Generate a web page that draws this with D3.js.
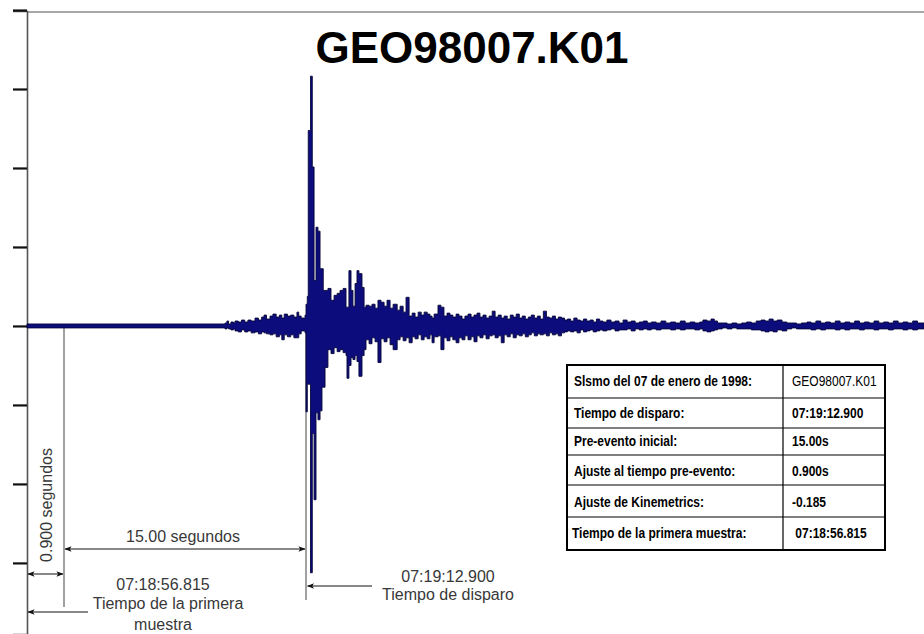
<!DOCTYPE html>
<html>
<head>
<meta charset="utf-8">
<script src="https://cdn.jsdelivr.net/npm/d3@7"></script>
<style>
	body{margin:0;background:#fff;}
	svg{display:block;font-family:"Liberation Sans",Arial,sans-serif;}
</style>
</head>
<body>
<svg id="d_svg" width="924" height="634"></svg>
<script>
/*registro sismico GEO98007.K01*/
var titulo = "GEO98007.K01";
// tiempos marcados (s desde la primera muestra)
var tPrimera = 0;
var tPreEvento = 0.9;
var tDisparo = 15.9;
var tFin = 54.2;
var yTicks = [-240, -160, -80, 0, 80, 160, 240, 320];
// envolvente de la senal: [t (s), maximo, minimo] en cuentas
var envolvente = [
	[0,2,-2],[10.88,3,-3],[11.0,5,-2],[11.1,2,-3],[11.25,4,-4],[11.4,3,-3],[11.5,5,-5],[11.7,4,-6],
	[11.9,6,-4],[12.1,4,-6],[12.3,6,-5],[12.5,5,-7],[12.74,8,-6],[12.95,6,-8],[13.15,9,-6],[13.3,11,-7],
	[13.45,7,-8],[13.67,10,-9],[13.85,12,-8],[14.05,9,-11],[14.25,11,-9],[14.4,8,-14],[14.55,12,-9],
	[14.75,10,-11],[14.95,11,-9],[15.15,9,-12],[15.34,14,-12],[15.45,10,-8],[15.6,8,-5],[15.84,11,-7],
	[15.9,22,-87],[15.98,30,-59],[16.04,198,-59],[16.18,253,-250],[16.29,161,-109],[16.4,46,-176],
	[16.52,100,-88],[16.64,96,-95],[16.77,58,-86],[16.89,58,-62],[16.97,36,-62],[17.08,36,-42],
	[17.26,38,-24],[17.45,26,-28],[17.64,31,-22],[17.83,33,-26],[18.01,36,-24],[18.2,38,-27],
	[18.38,19,-30],[18.44,19,-53],[18.56,56,-40],[18.69,36,-32],[18.81,20,-34],[18.94,43,-30],
	[19.06,56,-36],[19.18,53,-51],[19.37,39,-30],[19.5,19,-24],[19.62,21,-14],[19.81,20,-18],
	[19.99,22,-12],[20.18,18,-16],[20.36,26,-37],[20.55,24,-13],[20.74,20,-16],[20.92,26,-12],
	[21.11,18,-19],[21.3,22,-24],[21.55,16,-14],[21.73,20,-11],[21.92,14,-15],[22.1,29,-12],
	[22.29,10,-17],[22.48,13,-11],[22.66,9,-13],[22.85,14,-9],[23.04,11,-14],[23.22,14,-11],
	[23.41,12,-13],[23.58,10,-9],[23.71,8,-17],[23.84,12,-11],[24.08,21,-10],[24.26,19,-24],
	[24.45,10,-12],[24.64,13,-15],[24.82,11,-11],[25.0,9,-14],[25.2,12,-17],[25.38,10,-12],
	[25.57,7,-14],[25.75,10,-10],[25.94,12,-14],[26.13,9,-11],[26.31,11,-16],[26.5,13,-10],
	[26.68,9,-12],[26.87,11,-9],[27.06,8,-13],[27.25,10,-10],[27.44,15,-9],[27.62,9,-12],
	[27.81,11,-10],[28.0,8,-17],[28.18,10,-9],[28.37,7,-11],[28.56,11,-8],[28.74,9,-12],
	[28.93,12,-9],[29.12,8,-10],[29.3,10,-8],[29.49,7,-11],[29.68,9,-9],[29.86,11,-7],
	[30.05,8,-10],[30.24,10,-8],[30.42,7,-9],[30.61,15,-8],[30.8,9,-10],[30.98,8,-7],
	[31.17,10,-9],[31.36,7,-8],[31.54,9,-10],[31.73,8,-7],[31.92,6,-6],[32.1,7,-5],[32.3,5,-6],
	[32.5,8,-5],[32.7,6,-7],[32.9,5,-4],[33.1,7,-6],[33.3,5,-5],[33.5,6,-4],[33.7,4,-6],
	[33.9,7,-5],[34.1,5,-4],[34.3,4,-5],[34.55,6,-4],[34.8,4,-3],[35.05,5,-5],[35.3,3,-4],
	[35.55,6,-4],[35.8,4,-3],[36.05,5,-5],[36.3,3,-3],[36.55,4,-4],[36.8,5,-3],[37.05,3,-4],
	[37.3,4,-3],[37.6,3,-4],[37.9,5,-3],[38.2,3,-3],[38.5,4,-4],[38.8,3,-3],[39.1,5,-4],
	[39.4,3,-3],[39.7,4,-3],[40.0,3,-4],[40.3,4,-3],[40.5,6,-5],[40.75,5,-6],[41.0,7,-5],
	[41.2,5,-4],[41.4,3,-3],[41.7,3,-2],[42.0,2,-3],[42.3,3,-2],[42.6,2,-3],[42.9,3,-3],
	[43.2,4,-3],[43.5,3,-4],[43.8,5,-4],[44.1,6,-5],[44.35,5,-6],[44.6,7,-5],[44.85,5,-6],
	[45.1,6,-4],[45.4,4,-5],[45.7,3,-3],[46.0,3,-2],[46.3,2,-3],[46.6,3,-3],[46.95,4,-3],
	[47.2,3,-4],[47.5,5,-3],[47.8,3,-4],[48.1,4,-3],[48.4,3,-3],[48.7,5,-4],[49.0,3,-3],
	[49.3,4,-4],[49.6,3,-3],[49.9,5,-3],[50.2,3,-4],[50.5,4,-3],[50.8,3,-3],[51.1,5,-4],
	[51.4,3,-3],[51.7,4,-3],[52.0,3,-4],[52.3,5,-3],[52.6,3,-3],[52.9,4,-4],[53.2,3,-3],
	[53.5,5,-4],[53.8,3,-3],[54.2,3,-3]
];
var tablaEtiquetas = [
	"Slsmo del 07 de enero de 1998:",
	"Tiempo de disparo:",
	"Pre-evento inicial:",
	"Ajuste al tiempo pre-evento:",
	"Ajuste de Kinemetrics:",
	"Tiempo de la primera muestra:"
];
var tablaValores = ["GEO98007.K01", "07:19:12.900", "15.00s", "0.900s", "-0.185", " 07:18:56.815"];

var svg = d3.select('#d_svg');
// la escala no es proporcional en el primer tramo (esquema del registro)
var x = d3.scaleLinear()
			.domain([tPrimera, tPreEvento, tDisparo, tFin])
			.range([27, 64, 306, 924]);
var y = d3.scaleLinear()
			.domain([-312, 319])
			.range([634, 11]);

var defs = svg.append('defs');
defs.append('marker')
	.attr('id', 'flecha')
	.attr('viewBox', '0 0 8 8')
	.attr('refX', 7.5)
	.attr('refY', 4)
	.attr('markerWidth', 7)
	.attr('markerHeight', 7)
	.attr('markerUnits', 'userSpaceOnUse')
	.attr('orient', 'auto-start-reverse')
	.append('path')
	.attr('d', 'M0,0.8L8,4L0,7.2L2,4Z')
	.attr('fill', '#111');

// marco superior
svg.append('line')
	.attr('x1', x(tPrimera))
	.attr('x2', 924)
	.attr('y1', 12)
	.attr('y2', 12)
	.attr('stroke', '#8a8a8a')
	.attr('stroke-width', 1.5);

// eje y sin etiquetas
var eje = svg.append('g')
			.attr('transform', 'translate(' + x(tPrimera) + ',0)')
			.call(d3.axisLeft(y).tickValues(yTicks).tickSize(14).tickFormat(''));
eje.select('.domain')
	.attr('stroke', '#555')
	.attr('stroke-width', 1.6);
eje.selectAll('.tick line')
	.attr('stroke', '#111')
	.attr('stroke-width', 2.2);

// lineas verticales de referencia
var marcas = [tPreEvento, tDisparo];
svg.append('g')
	.selectAll('line')
	.data(marcas)
	.enter()
	.append('line')
	.attr('x1', function(d){ return x(d); })
	.attr('x2', function(d){ return x(d); })
	.attr('y1', y(0))
	.attr('y2', function(d, i){ return i == 0 ? 607 : 600; })
	.attr('stroke', '#8a8a8a')
	.attr('stroke-width', 1.6);

// senal
var area = d3.area()
			.x(function(d){ return x(d[0]); })
			.y0(function(d){ return y(d[2]); })
			.y1(function(d){ return y(d[1]); })
			.curve(d3.curveStepAfter);
svg.append('path')
	.datum(envolvente)
	.attr('d', area)
	.attr('fill', '#0c0c7c')
	.attr('stroke', '#07073a')
	.attr('stroke-width', 0.9)
	.attr('stroke-linejoin', 'miter');

// titulo
svg.append('text')
	.attr('x', 472)
	.attr('y', 63)
	.attr('text-anchor', 'middle')
	.attr('font-size', '44px')
	.attr('font-weight', 'bold')
	.attr('fill', '#000')
	.text(titulo);

// cotas
var cotas = svg.append('g')
			.attr('stroke', '#111')
			.attr('stroke-width', 1);
cotas.append('line')
	.attr('x1', x(tPreEvento) + 1).attr('x2', x(tDisparo) - 1)
	.attr('y1', 549).attr('y2', 549)
	.attr('marker-start', 'url(#flecha)')
	.attr('marker-end', 'url(#flecha)');
cotas.append('line')
	.attr('x1', x(tPrimera) + 1).attr('x2', x(tPreEvento) - 1)
	.attr('y1', 574).attr('y2', 574)
	.attr('marker-start', 'url(#flecha)')
	.attr('marker-end', 'url(#flecha)');
cotas.append('line')
	.attr('x1', 88).attr('x2', x(tPrimera) + 1)
	.attr('y1', 612).attr('y2', 612)
	.attr('marker-end', 'url(#flecha)');
cotas.append('line')
	.attr('x1', 372).attr('x2', x(tDisparo) + 1.5)
	.attr('y1', 586).attr('y2', 586)
	.attr('marker-end', 'url(#flecha)');

var notas = [
	{"x":183,"y":542,"t":"15.00 segundos"},
	{"x":163,"y":590,"t":"07:18:56.815"},
	{"x":168,"y":609,"t":"Tiempo de la primera"},
	{"x":163,"y":630,"t":"muestra"},
	{"x":448,"y":582,"t":"07:19:12.900"},
	{"x":448,"y":600,"t":"Tiempo de disparo"}
];
svg.append('g')
	.selectAll('text')
	.data(notas)
	.enter()
	.append('text')
	.attr('x', function(d){ return d.x; })
	.attr('y', function(d){ return d.y; })
	.attr('text-anchor', 'middle')
	.attr('font-size', '16px')
	.attr('fill', '#383838')
	.text(function(d){ return d.t; });
svg.append('text')
	.attr('transform', 'translate(51.5,505) rotate(-90)')
	.attr('text-anchor', 'middle')
	.attr('font-size', '16px')
	.attr('fill', '#383838')
	.text('0.900 segundos');

// tabla de parametros
var filas = [365, 398, 428, 455, 485, 517, 550];
var base = [386, 418, 446, 476, 507, 538];
var tabla = svg.append('g');
tabla.append('rect')
	.attr('x', 567)
	.attr('y', filas[0])
	.attr('width', 318)
	.attr('height', filas[6] - filas[0])
	.attr('fill', '#fff')
	.attr('stroke', '#000')
	.attr('stroke-width', 2);
tabla.selectAll('line.fila')
	.data(filas.slice(1, 6))
	.enter()
	.append('line')
	.attr('class', 'fila')
	.attr('x1', 567).attr('x2', 885)
	.attr('y1', function(d){ return d; })
	.attr('y2', function(d){ return d; })
	.attr('stroke', '#000')
	.attr('stroke-width', 1.2);
tabla.append('line')
	.attr('x1', 783).attr('x2', 783)
	.attr('y1', filas[0]).attr('y2', filas[6])
	.attr('stroke', '#000')
	.attr('stroke-width', 1.2);
tabla.selectAll('text.etq')
	.data(tablaEtiquetas)
	.enter()
	.append('text')
	.attr('class', 'etq')
	.attr('transform', function(d, i){ return 'translate(' + (i == 5 ? 572 : 574) + ',' + base[i] + ') scale(0.8,1)'; })
	.attr('font-size', '15px')
	.attr('font-weight', 'bold')
	.attr('fill', '#000')
	.text(function(d){ return d; });
tabla.selectAll('text.val')
	.data(tablaValores)
	.enter()
	.append('text')
	.attr('class', 'val')
	.attr('transform', function(d, i){ return 'translate(792,' + base[i] + ') scale(0.8,1)'; })
	.attr('font-size', '15px')
	.attr('font-weight', function(d, i){ return i == 0 ? 'normal' : 'bold'; })
	.attr('fill', '#000')
	.attr('xml:space', 'preserve')
	.style('white-space', 'pre')
	.text(function(d){ return d; });
</script>
</body>
</html>
